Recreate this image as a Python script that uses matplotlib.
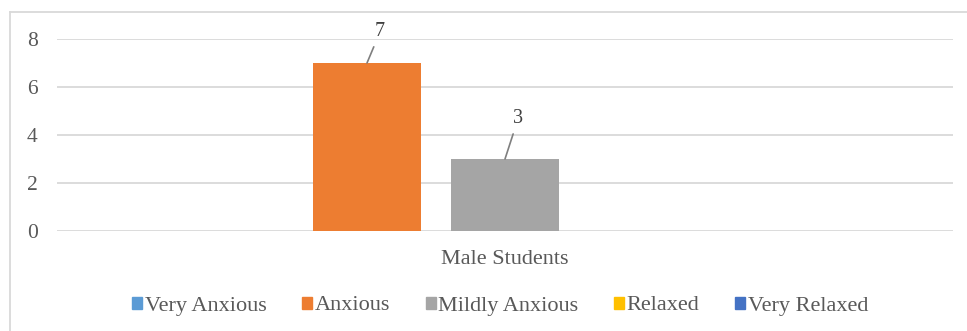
import matplotlib.pyplot as plt
from matplotlib.lines import Line2D
from matplotlib.patches import Patch

categoria = "Male Students"
niveis = ["Very Anxious", "Anxious", "Mildly Anxious", "Relaxed", "Very Relaxed"]
valores = [0, 7, 3, 0, 0]
cores = ["#5B9BD5", "#ED7D31", "#A5A5A5", "#FFC000", "#4472C4"]
yticks = [0, 2, 4, 6, 8]

plt.rcParams['font.family'] = ['Liberation Serif', 'DejaVu Serif']

fig = plt.figure(figsize=(9.67, 3.31), dpi=100)
ax = fig.add_axes([57/967, 1 - 231/331, 896/967, 192/331])

# deslocamento do rótulo (pixels) em relação ao topo da barra
desloc = {1: (13, 31), 2: (13, 40)}

passo = 138/896
larg = 108/896
for i in range(len(niveis)):
    x = (i - 2) * passo
    ax.bar(x, valores[i], width=larg, color=cores[i], label=niveis[i], zorder=3)
    if valores[i] > 0:
        ax.annotate(str(valores[i]), xy=(x, valores[i]), xytext=desloc[i],
                    textcoords='offset pixels', ha='center', va='center',
                    fontsize=14.5, color='#404040',
                    arrowprops=dict(arrowstyle='-', color='#7F7F7F', lw=1.2,
                                    shrinkA=2, shrinkB=0))

ax.set_xlim(-0.5, 0.5)
ax.set_ylim(0, 8)
ax.set_yticks(yticks)
ax.set_xticks([0])
ax.set_xticklabels([categoria])
ax.tick_params(axis='y', length=0, pad=14, labelsize=15.5, labelcolor='#595959')
ax.tick_params(axis='x', length=0, pad=14, labelsize=16, labelcolor='#595959')
ax.grid(axis='y', color='#D9D9D9', lw=1.3, zorder=0)
for s in ax.spines.values():
    s.set_visible(False)

handles = [Patch(color=c) for c in cores]
fig.legend(handles, niveis, loc='center', bbox_to_anchor=(500/967, 1 - 306/331),
           ncol=5, frameon=False, fontsize=16, labelcolor='#595959',
           handlelength=0.45, handleheight=0.45, handletextpad=0.12,
           columnspacing=1.6, borderpad=0, borderaxespad=0)

# borda do gráfico
fig.add_artist(Line2D([10/967, 10/967], [0, 1 - 12/331], color='#D9D9D9', lw=1.3))
fig.add_artist(Line2D([10/967, 1], [1 - 12/331, 1 - 12/331], color='#D9D9D9', lw=1.3))

plt.savefig('out.png')
plt.close()
